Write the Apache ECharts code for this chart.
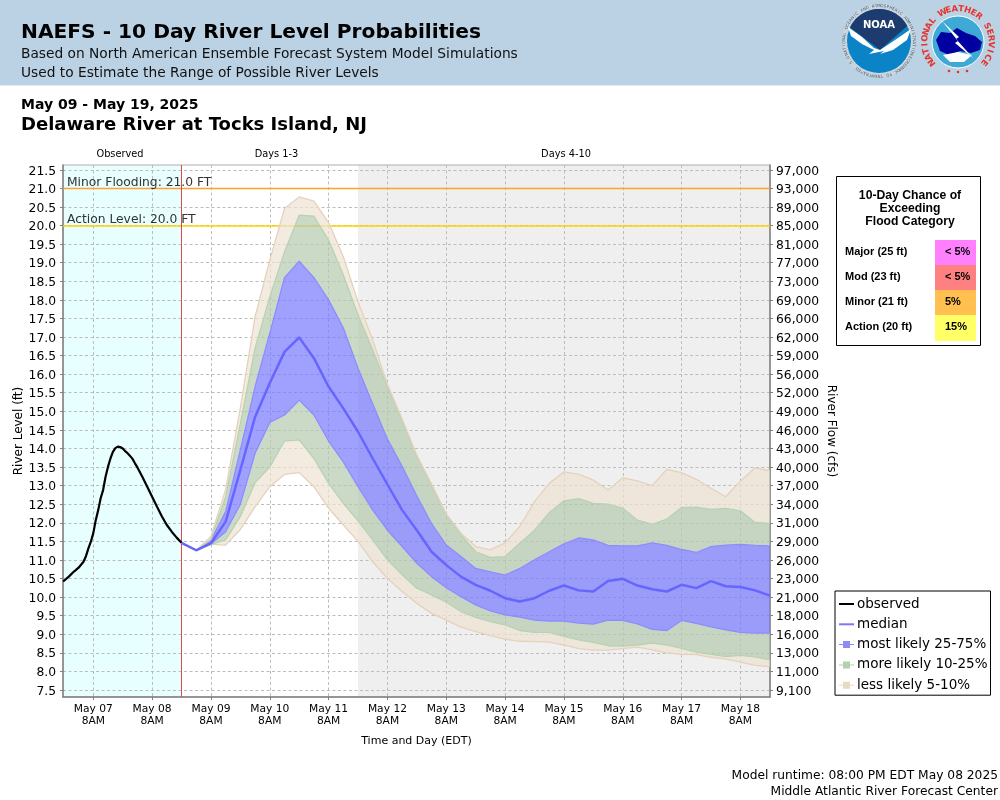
<!DOCTYPE html>
<html><head><meta charset="utf-8">
<style>html,body{margin:0;padding:0;background:#fff}#c{width:1000px;height:800px}</style>
<script src="https://cdn.jsdelivr.net/npm/echarts@6/dist/echarts.min.js"></script>
</head><body><div id="c"></div>
<script>
// Hours are counted from May 07 8AM
const xTickHours=[0,24,48,72,96,120,144,168,192,216,240,264];
const xTickLabels=['May 07','May 08','May 09','May 10','May 11','May 12','May 13','May 14','May 15','May 16','May 17','May 18'];
const stageTicks=[7.5,8,8.5,9,9.5,10,10.5,11,11.5,12,12.5,13,13.5,14,14.5,15,15.5,16,16.5,17,17.5,18,18.5,19,19.5,20,20.5,21,21.5];
const flowLabels=['9,100','11,000','13,000','16,000','18,000','21,000','23,000','26,000','29,000','31,000','34,000','37,000','40,000','43,000','46,000','49,000','52,000','56,000','59,000','62,000','66,000','69,000','73,000','77,000','81,000','85,000','89,000','93,000','97,000'];
const observedHours=[-12.3,-10,-8,-6,-4,-3,-2,-1,0,1,2,3,4,5,6,7,8,9,10,11,12,13,14,15,16,17,18,20,22,24,26,28,30,32,34,36];
const observed=[10.42,10.55,10.68,10.79,10.95,11.1,11.31,11.49,11.72,12.07,12.34,12.66,12.88,13.24,13.51,13.73,13.91,14.01,14.05,14.04,14.0,13.93,13.87,13.8,13.72,13.6,13.49,13.24,12.97,12.7,12.43,12.17,11.94,11.76,11.6,11.46];
const forecastHours=[36,42,48,54,60,66,72,78,84,90,96,102,108,114,120,126,132,138,144,150,156,162,168,174,180,186,192,198,204,210,216,222,228,234,240,246,252,258,264,270,276];
const p95=[11.46,11.26,11.63,12.9,15.1,17.55,19.07,20.46,20.77,20.66,20.08,19.16,17.95,16.92,15.73,14.79,13.82,13.04,12.24,11.72,11.36,11.27,11.46,11.9,12.57,13.06,13.37,13.31,13.15,12.88,13.21,13.13,13.0,13.44,13.35,13.17,12.93,12.7,13.12,13.48,13.4];
const p90=[11.46,11.26,11.55,12.7,14.67,16.7,18.08,19.29,20.28,20.25,19.61,18.67,17.59,16.65,15.66,14.72,13.78,13.0,12.21,11.67,11.22,11.07,11.09,11.45,11.8,12.27,12.59,12.65,12.52,12.5,12.39,12.07,11.96,12.1,12.41,12.42,12.36,12.39,12.32,12.01,11.98];
const p75=[11.46,11.26,11.53,12.3,13.96,15.66,17.1,18.6,19.04,18.6,18.0,17.24,16.16,15.2,14.25,13.52,12.72,11.98,11.4,11.09,10.77,10.68,10.59,10.77,11.0,11.22,11.43,11.59,11.54,11.39,11.38,11.38,11.46,11.39,11.28,11.2,11.36,11.4,11.42,11.39,11.38];
const median=[11.46,11.26,11.45,12.03,13.42,14.85,15.76,16.6,16.99,16.43,15.66,15.08,14.45,13.73,13.03,12.34,11.8,11.22,10.86,10.55,10.33,10.17,9.97,9.88,9.97,10.17,10.31,10.18,10.15,10.43,10.49,10.31,10.21,10.15,10.33,10.24,10.43,10.29,10.27,10.18,10.04];
const p25=[11.46,11.26,11.43,11.76,12.5,13.87,14.7,14.9,15.3,14.9,14.2,13.64,12.97,12.34,11.8,11.36,10.91,10.55,10.25,10.01,9.79,9.63,9.52,9.46,9.38,9.35,9.35,9.3,9.27,9.38,9.37,9.28,9.13,9.1,9.37,9.29,9.2,9.12,9.05,9.03,9.03];
const p10=[11.46,11.26,11.42,11.54,12.17,13.08,13.5,14.2,14.23,13.73,13.06,12.52,12.05,11.54,11.0,10.6,10.24,10.06,9.86,9.61,9.45,9.34,9.25,9.1,9.05,9.05,8.94,8.85,8.78,8.69,8.68,8.71,8.76,8.71,8.62,8.52,8.46,8.4,8.43,8.39,8.31];
const p5=[11.46,11.26,11.42,11.4,11.82,12.43,12.97,13.3,13.35,12.97,12.39,11.94,11.5,10.95,10.5,10.15,9.83,9.56,9.38,9.19,9.07,8.96,8.87,8.81,8.8,8.79,8.71,8.61,8.57,8.57,8.61,8.65,8.58,8.5,8.46,8.45,8.38,8.33,8.25,8.16,8.13];
const floodCategories=['Major (25 ft)','Mod (23 ft)','Minor (21 ft)','Action (20 ft)'];
const floodChances=['< 5%','< 5%','5%','15%'];
const floodColors=['#FF80FF','#FF8080','#FFC050','#FFFF66'];
const minorLevel=21, actionLevel=20, forecastStart=36, days4Start=108;

const F='"DejaVu Sans"', A='"Liberation Sans"';
const TAN={fill:'rgba(238,226,209,0.7)',edge:'#E4D2BC'}, GRN={fill:'rgba(181,202,175,0.7)',edge:'#B8D2B0'}, BLU={fill:'rgba(119,119,255,0.7)',edge:'#8C8CFF'};
// value first, hour second: the stack then builds on the level, not on the hour
const band=(name,upper,lower,edge,fill)=>({name,type:'line',stack:'b',symbol:'none',silent:true,z:3,encode:{x:1,y:0},
  data:forecastHours.map((h,i)=>[+(upper[i]-lower[i]).toFixed(3),h]),
  lineStyle:{color:edge,width:1.3},areaStyle:{color:fill,opacity:1},itemStyle:{color:edge}});
const SQ='path://M0,4H4V1H11V4H15V5H11V8H4V5H0Z';
const LN='path://M0,0H15V2H0Z';

const g=[];
const txt=(x,y,text,font,fill,align,extra)=>g.push(Object.assign({type:'text',x,y,silent:true,z:20,style:{text,font,fill:fill||'#000',textAlign:align||'left',textVerticalAlign:'middle'}},extra||{}));
g.push({type:'rect',z:1,shape:{x:0,y:0,width:1000,height:85.5},style:{fill:'#BBD2E5'}});
txt(21,33,'NAEFS - 10 Day River Level Probabilities','bold 20.2px '+F);
txt(21,54,'Based on North American Ensemble Forecast System Model Simulations','13.75px '+F,'#111');
txt(21,73,'Used to Estimate the Range of Possible River Levels','13.75px '+F,'#111');
txt(21,105.5,'May 09 - May 19, 2025','bold 14px '+F);
txt(21,125.5,'Delaware River at Tocks Island, NJ','bold 18px '+F);
txt(120,154,'Observed','9.8px '+F,'#000','center');
txt(276.5,154,'Days 1-3','9.8px '+F,'#000','center');
txt(566,154,'Days 4-10','9.8px '+F,'#000','center');
txt(998,776,'Model runtime: 08:00 PM EDT May 08 2025','12.25px '+F,'#000','right');
txt(998,791.5,'Middle Atlantic River Forecast Center','12.25px '+F,'#000','right');

// Flood table
g.push({type:'rect',z:10,shape:{x:836.5,y:176.5,width:144,height:169},style:{fill:'#fff',stroke:'#000',lineWidth:1}});
['10-Day Chance of','Exceeding','Flood Category'].forEach((s,i)=>txt(910,196+i*13,s,'bold 12.2px '+A,'#000','center'));
floodCategories.forEach((s,i)=>{
  const top=240+i*25;
  g.push({type:'rect',z:11,shape:{x:935,y:top,width:41,height:i==3?26:25},style:{fill:floodColors[i]}});
  txt(845,top+12,s,'bold 11px '+A);
  txt(945,top+12,floodChances[i],'bold 11px '+A);
});

// Logos
const ring=(text,cx,cy,r,a0,a1,font,fill)=>{const n=text.length;[...text].forEach((ch,i)=>{const a=(a0+(a1-a0)*i/(n-1))*Math.PI/180;
  g.push({type:'text',silent:true,z:7,x:cx+r*Math.sin(a),y:cy-r*Math.cos(a),rotation:-a,style:{text:ch,font,fill,textAlign:'center',textVerticalAlign:'middle'}});});};
const arc=(cx,cy,r,a0,a1,n)=>{const p=[];for(let i=0;i<=n;i++){const a=(a0+(a1-a0)*i/n)*Math.PI/180;p.push([cx+r*Math.sin(a),cy-r*Math.cos(a)]);}return p;};
g.push({type:'circle',z:3,shape:{cx:879,cy:41,r:37},style:{fill:'#C9D5DF'}});
ring('NATIONAL OCEANIC AND ATMOSPHERIC ADMINISTRATION',879,41,35,-112,112,'4px '+F,'#4B5B6B');
ring('U.S. DEPARTMENT OF COMMERCE',879,41,35,242,118,'4px '+F,'#4B5B6B');
g.push({type:'circle',z:4,shape:{cx:879,cy:41,r:32},style:{fill:'#0A84C6'}});
g.push({type:'polygon',z:5,shape:{points:arc(879,41,32,-65,62,24).concat([[880,50]])},style:{fill:'#1D3B6E'}});
g.push({type:'polygon',z:6,shape:{points:[[848,27],[862,37],[874,48],[880,50],[892,42],[911,29],[907,40],[893,50],[880,54],[884,51],[869,54],[874,50],[862,44],[851,36]]},style:{fill:'#fff'}});
g.push({type:'text',z:7,silent:true,x:879,y:25,style:{text:'NOAA',font:'bold 10px '+F,fill:'#fff',textAlign:'center',textVerticalAlign:'middle'}});
ring('NATIONAL WEATHER SERVICE',958,42,33,-128,128,'bold 8.5px '+F,'#E5342B');
g.push({type:'circle',z:4,shape:{cx:958,cy:42,r:26},style:{fill:'#3FA9D6',stroke:'#fff',lineWidth:1}});
g.push({type:'polygon',z:5,shape:{points:[[936,40],[941,32],[950,33],[957,28],[966,33],[975,36],[982,42],[980,50],[971,53],[960,51],[949,55],[940,51]]},style:{fill:'#0000A0'}});
g.push({type:'polygon',z:5,shape:{points:[[943,55],[958,52],[972,55],[964,62],[950,62]]},style:{fill:'#fff'}});
g.push({type:'polygon',z:6,shape:{points:[[942,21],[959,37],[956,39],[973,58],[955,43],[958,41]]},style:{fill:'#fff'}});
[[949,71],[958,72],[967,71]].forEach(p=>g.push({type:'circle',z:7,shape:{cx:p[0],cy:p[1],r:1.3},style:{fill:'#E5342B'}}));

const chart=echarts.init(document.getElementById('c'),null,{renderer:'canvas'});
const axisLine={show:true,onZero:false,lineStyle:{color:'#808080',width:1.5}};
const tick={show:true,length:3,lineStyle:{color:'#808080'}};
const split={show:true,lineStyle:{color:'#BDBDBD',type:[3,2.5],width:1}};
chart.setOption({
  animation:false,backgroundColor:'#fff',graphic:{elements:g},
  grid:{left:63,right:230,top:165,height:532,show:true,borderColor:'#ADADAD',borderWidth:1,backgroundColor:'transparent',outerBoundsMode:'none',containLabel:false},
  legend:{left:835,top:591,orient:'vertical',itemWidth:15,itemHeight:9,itemGap:6.3,padding:[6,3,3,4],borderColor:'#000',borderWidth:1,backgroundColor:'#fff',
    textStyle:{fontFamily:F,fontSize:13.5,color:'#000',padding:[0,0,0,-2]},selectedMode:false,
    data:[{name:'observed',icon:LN,itemStyle:{color:'#000'}},{name:'median',icon:LN,itemStyle:{color:'#7777FF'}},
      {name:'most likely 25-75%',icon:SQ,itemStyle:{color:'#8C8CF5'}},
      {name:'more likely 10-25%',icon:SQ,itemStyle:{color:'#B4D0AC'}},
      {name:'less likely 5-10%',icon:SQ,itemStyle:{color:'#E8D9C6'}}]},
  xAxis:{type:'value',min:-12.36,max:276.07,axisLine,splitLine:split,
    axisTick:Object.assign({customValues:xTickHours},tick),
    axisLabel:{customValues:xTickHours,fontFamily:F,fontSize:10.7,color:'#000',lineHeight:12,margin:6,formatter:v=>xTickLabels[xTickHours.indexOf(v)]+'\n8AM'},
    name:'Time and Day (EDT)',nameLocation:'middle',nameGap:39,nameMoveOverlap:false,nameTextStyle:{fontFamily:F,fontSize:11,color:'#000'}},
  yAxis:[{type:'value',min:7.31,max:21.63,axisLine,splitLine:split,
    axisTick:Object.assign({customValues:stageTicks},tick),
    axisLabel:{customValues:stageTicks,fontFamily:F,fontSize:12.3,color:'#000',margin:7,verticalAlign:'top',lineHeight:3,formatter:v=>v.toFixed(1)},
    name:'River Level (ft)',nameLocation:'middle',nameGap:38,nameMoveOverlap:false,nameTextStyle:{fontFamily:F,fontSize:12,color:'#000'}},
   {type:'value',position:'right',min:7.31,max:21.63,axisLine,splitLine:{show:false},
    axisTick:Object.assign({customValues:stageTicks},tick),
    axisLabel:{customValues:stageTicks,fontFamily:F,fontSize:12.3,color:'#000',margin:6,verticalAlign:'top',lineHeight:3,formatter:v=>flowLabels[stageTicks.indexOf(v)]},
    name:'River Flow (cfs)',nameLocation:'middle',nameGap:55,nameMoveOverlap:false,nameRotate:-90,nameTextStyle:{fontFamily:F,fontSize:12,color:'#000'}}],
  series:[
    {name:'shading',type:'line',data:[],silent:true,z:1,
      markArea:{silent:true,z:-1,label:{show:false},data:[
        [{xAxis:-12.36,itemStyle:{color:'#E8FFFF',opacity:1}},{xAxis:forecastStart}],
        [{xAxis:days4Start,itemStyle:{color:'#EFEFEF',opacity:1}},{xAxis:276.07}]]}},
    {name:'base',type:'line',stack:'b',symbol:'none',silent:true,z:3,encode:{x:1,y:0},data:forecastHours.map((h,i)=>[p5[i],h]),lineStyle:{color:TAN.edge,width:1.3},areaStyle:{opacity:0}},
    band('less likely 5-10%',p10,p5,GRN.edge,TAN.fill),
    band('more likely 10-25%',p25,p10,BLU.edge,GRN.fill),
    band('most likely 25-75%',p75,p25,BLU.edge,BLU.fill),
    band('more likely 10-25%',p90,p75,GRN.edge,GRN.fill),
    band('less likely 5-10%',p95,p90,TAN.edge,TAN.fill),
    {name:'median',type:'line',symbol:'none',silent:true,z:5,data:forecastHours.map((h,i)=>[h,median[i]]),lineStyle:{color:'#6666FF',width:2.5},itemStyle:{color:'#6666FF'}},
    {name:'observed',type:'line',symbol:'none',silent:true,z:6,data:observedHours.map((h,i)=>[h,observed[i]]),lineStyle:{color:'#000',width:2.2},itemStyle:{color:'#000'},
      markLine:{silent:true,symbol:'none',animation:false,z:2,data:[
        {yAxis:minorLevel,lineStyle:{color:'#FFA033',width:1.3,type:'solid'},label:{show:true,position:'insideStartTop',formatter:'Minor Flooding: 21.0 FT',distance:[4,0],fontFamily:F,fontSize:12.3,color:'#333'}},
        {yAxis:actionLevel,lineStyle:{color:'#FFD000',width:1.5,type:'solid'},label:{show:true,position:'insideStartTop',formatter:'Action Level: 20.0 FT',distance:[4,0],fontFamily:F,fontSize:12.3,color:'#333'}},
        {xAxis:forecastStart,lineStyle:{color:'#E04848',width:1,type:'solid'},label:{show:false}}]}}
  ]
});
</script></body></html>
